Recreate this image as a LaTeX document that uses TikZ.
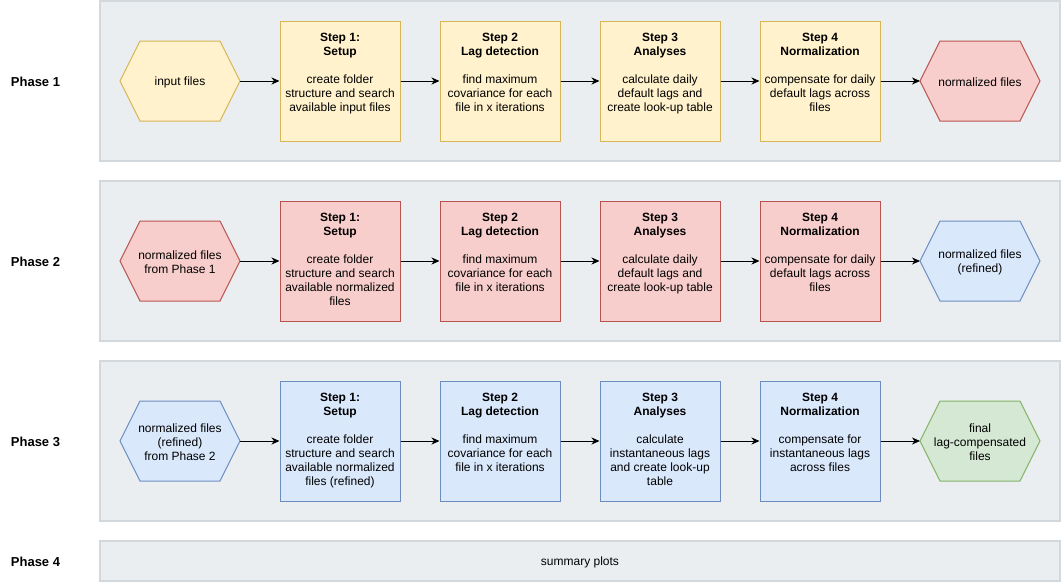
\documentclass[tikz,border=0pt]{standalone}
\usepackage{fontspec}
\setmainfont{Liberation Sans}
\usetikzlibrary{arrows.meta}

\definecolor{bandfill}{HTML}{EBEEF1}
\definecolor{bandline}{HTML}{D3D8DD}
\definecolor{yfill}{HTML}{FFF2CC}
\definecolor{yline}{HTML}{D6B656}
\definecolor{rfill}{HTML}{F8CECC}
\definecolor{rline}{HTML}{B85450}
\definecolor{bfill}{HTML}{DAE8FC}
\definecolor{bline}{HTML}{6C8EBF}
\definecolor{gfill}{HTML}{D5E8D4}
\definecolor{gline}{HTML}{82B366}

\tikzset{
  band/.style={draw=bandline, fill=bandfill, line width=1.5pt, anchor=north west,
    minimum width=960pt, inner sep=0pt, outer sep=0pt},
  stepbox/.style={minimum width=120pt, minimum height=120pt, inner sep=0pt, line width=1pt},
  steptext/.style={anchor=north, align=center, inner sep=0pt},
  hexframe/.style={minimum width=120pt, minimum height=80pt, inner sep=0pt, outer sep=0pt},
  phaselabel/.style={font=\fontsize{13}{15}\selectfont\bfseries},
  yel/.style={fill=yfill, draw=yline},
  red/.style={fill=rfill, draw=rline},
  blu/.style={fill=bfill, draw=bline},
  grn/.style={fill=gfill, draw=gline},
  flow/.style={-{Stealth[length=8pt,width=7pt,inset=2.5pt]}, line width=1pt, black},
}

% hexagonal file symbol: name, x, y, colour style, text
\newcommand\filehex[5]{%
  \node[hexframe] (#1) at (#2,#3) {};
  \draw[#4, line width=1pt] (#1.west) -- ([xshift=20pt]#1.north west)
    -- ([xshift=-20pt]#1.north east) -- (#1.east)
    -- ([xshift=-20pt]#1.south east) -- ([xshift=20pt]#1.south west) -- cycle;
  \node[align=center, inner sep=0pt, yshift=-1pt] (#1t) at (#2,#3) {#5};
}

% processing step: name, x, centre y, text top y, colour style, title line 1, title line 2, text
\newcommand\stepnode[8]{%
  \node[stepbox, #5] (#1) at (#2,#3) {};
  \node[steptext] (#1t) at (#2,#4) {\strut\textbf{#6}\\\textbf{#7}\\[14pt]#8};
}

\begin{document}
\begin{tikzpicture}[x=1pt, y=-1pt, font=\fontsize{12}{14}\selectfont]
\useasboundingbox (0,0) rectangle (1062,582);
\fill[white] (0,0) rectangle (1062,582);

% phase bands
\node[band, minimum height=160pt] (band1) at (100,1) {};
\node[band, minimum height=160pt] (band2) at (100,181) {};
\node[band, minimum height=160pt] (band3) at (100,361) {};
\node[band, minimum height=40pt] (band4) at (100,541) {};

% phase labels
\node[phaselabel] (p1) at (35.5,82) {Phase 1};
\node[phaselabel] (p2) at (35.5,262) {Phase 2};
\node[phaselabel] (p3) at (35.5,442) {Phase 3};
\node[phaselabel] (p4) at (35.5,562) {Phase 4};

% Phase 1
\filehex{h1a}{180}{81}{yel}{input files}
\stepnode{s11}{340}{81}{31.5}{yel}{Step 1:}{Setup}{create folder\\structure and search\\available input files}
\stepnode{s12}{500}{81}{31.5}{yel}{Step 2}{Lag detection}{find maximum\\covariance for each\\file in x iterations}
\stepnode{s13}{660}{81}{31.5}{yel}{Step 3}{Analyses}{calculate daily\\default lags and\\create look-up table}
\stepnode{s14}{820}{81}{31.5}{yel}{Step 4}{Normalization}{compensate for daily\\default lags across\\files}
\filehex{h1b}{980}{81}{red}{normalized files}
\draw[flow] (h1a.east) -- (s11.west);
\draw[flow] (s11.east) -- (s12.west);
\draw[flow] (s12.east) -- (s13.west);
\draw[flow] (s13.east) -- (s14.west);
\draw[flow] (s14.east) -- (h1b.west);

% Phase 2
\filehex{h2a}{180}{261}{red}{normalized files\\from Phase 1}
\stepnode{s21}{340}{261}{211.5}{red}{Step 1:}{Setup}{create folder\\structure and search\\available normalized\\files}
\stepnode{s22}{500}{261}{211.5}{red}{Step 2}{Lag detection}{find maximum\\covariance for each\\file in x iterations}
\stepnode{s23}{660}{261}{211.5}{red}{Step 3}{Analyses}{calculate daily\\default lags and\\create look-up table}
\stepnode{s24}{820}{261}{211.5}{red}{Step 4}{Normalization}{compensate for daily\\default lags across\\files}
\filehex{h2b}{980}{261}{blu}{normalized files\\(refined)}
\draw[flow] (h2a.east) -- (s21.west);
\draw[flow] (s21.east) -- (s22.west);
\draw[flow] (s22.east) -- (s23.west);
\draw[flow] (s23.east) -- (s24.west);
\draw[flow] (s24.east) -- (h2b.west);

% Phase 3
\filehex{h3a}{180}{441}{blu}{normalized files\\(refined)\\from Phase 2}
\stepnode{s31}{340}{441}{391.5}{blu}{Step 1:}{Setup}{create folder\\structure and search\\available normalized\\files (refined)}
\stepnode{s32}{500}{441}{391.5}{blu}{Step 2}{Lag detection}{find maximum\\covariance for each\\file in x iterations}
\stepnode{s33}{660}{441}{391.5}{blu}{Step 3}{Analyses}{calculate\\instantaneous lags\\and create look-up\\table}
\stepnode{s34}{820}{441}{391.5}{blu}{Step 4}{Normalization}{compensate for\\instantaneous lags\\across files}
\filehex{h3b}{980}{441}{grn}{final\\lag-compensated\\files}
\draw[flow] (h3a.east) -- (s31.west);
\draw[flow] (s31.east) -- (s32.west);
\draw[flow] (s32.east) -- (s33.west);
\draw[flow] (s33.east) -- (s34.west);
\draw[flow] (s34.east) -- (h3b.west);

% Phase 4
\node[yshift=-1pt] (sum) at (580,561) {summary plots};
\end{tikzpicture}
\end{document}
